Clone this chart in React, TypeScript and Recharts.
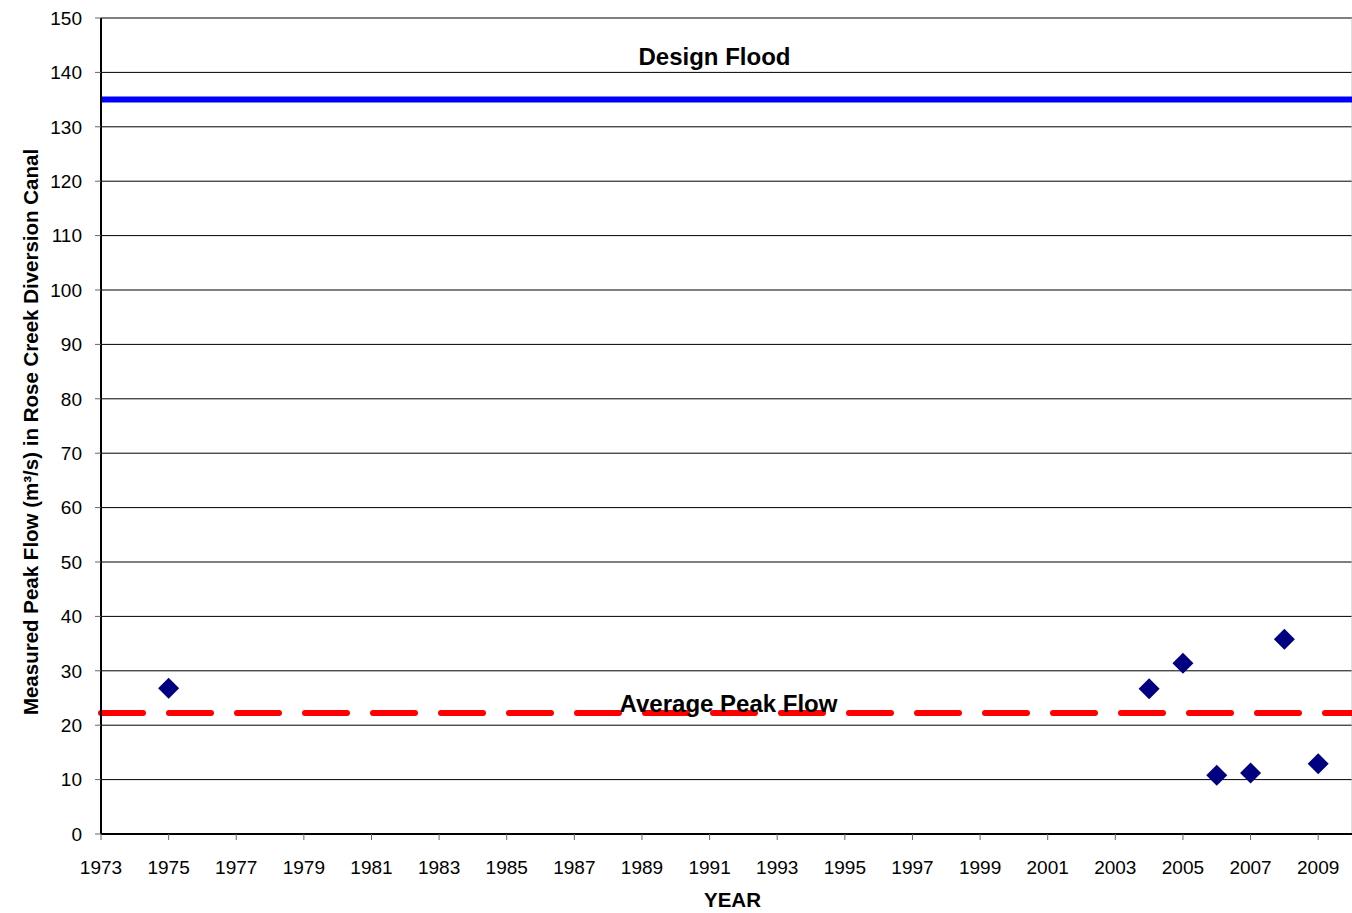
import React from 'react'
import {
  ComposedChart,
  Scatter,
  XAxis,
  YAxis,
  CartesianGrid,
  ReferenceLine,
} from 'recharts'

const years = [1975, 2004, 2005, 2006, 2007, 2008, 2009]
const peakFlows = [26.8, 26.7, 31.4, 10.8, 11.2, 35.8, 12.9]
const designFlood = 135

const xTicks = [
  1973, 1975, 1977, 1979, 1981, 1983, 1985, 1987, 1989, 1991,
  1993, 1995, 1997, 1999, 2001, 2003, 2005, 2007, 2009,
]
const yTicks = [0, 10, 20, 30, 40, 50, 60, 70, 80, 90, 100, 110, 120, 130, 140, 150]

const points = years.map((year, i) => ({ year, flow: peakFlows[i] }))
const averageFlow = peakFlows.reduce((a, b) => a + b, 0) / peakFlows.length

const FONT = '"Liberation Sans", Arial, sans-serif'

function Diamond(props: any) {
  const { cx, cy } = props
  const r = 10.5
  return (
    <polygon
      points={`${cx},${cy - r} ${cx + r},${cy} ${cx},${cy + r} ${cx - r},${cy}`}
      fill="#000080"
    />
  )
}

function YTitle(props: any) {
  const { viewBox } = props
  const x = viewBox.x + 30
  const y = viewBox.y + viewBox.height / 2 + 6
  return (
    <text
      x={x}
      y={y}
      transform={`rotate(-90, ${x}, ${y})`}
      textAnchor="middle"
      dominantBaseline="central"
      fontSize={20.5}
      fontWeight="bold"
      fill="#000"
    >
      Measured Peak Flow (m³/s) in Rose Creek Diversion Canal
    </text>
  )
}

function XTitle(props: any) {
  const { viewBox } = props
  return (
    <text
      x={viewBox.x + viewBox.width / 2 + 6}
      y={viewBox.y + 73}
      textAnchor="middle"
      fontSize={20.5}
      fontWeight="bold"
      fill="#000"
    >
      YEAR
    </text>
  )
}

export default function App() {
  return (
    <div style={{ position: 'absolute', left: 0, top: 0, background: '#fff' }}>
      <ComposedChart
        width={1352}
        height={913}
        data={points}
        margin={{ top: 18, right: 0, bottom: 0, left: 0 }}
        style={{ fontFamily: FONT }}
      >
        <CartesianGrid horizontal vertical={false} stroke="#000" strokeWidth={1} />
        <XAxis
          dataKey="year"
          type="number"
          domain={[1973, 2010]}
          ticks={xTicks}
          interval={0}
          height={79}
          tickSize={6}
          tickMargin={21}
          axisLine={{ stroke: '#000', strokeWidth: 2 }}
          tickLine={{ stroke: '#666' }}
          tick={{ fill: '#000', fontSize: 19 }}
          label={<XTitle />}
        />
        <YAxis
          type="number"
          domain={[0, 150]}
          ticks={yTicks}
          interval={0}
          width={101}
          tickSize={6}
          tickMargin={13}
          axisLine={{ stroke: '#000', strokeWidth: 2 }}
          tickLine={{ stroke: '#666' }}
          tick={{ fill: '#000', fontSize: 19 }}
          label={<YTitle />}
        />
        <ReferenceLine x={2010} stroke="#c0c0c0" strokeWidth={1} />
        <ReferenceLine
          y={designFlood}
          stroke="#0000ff"
          strokeWidth={6}
          label={{
            value: 'Design Flood',
            position: 'top',
            offset: 35,
            dx: -12,
            fill: '#000',
            fontSize: 24,
            fontWeight: 'bold',
          }}
        />
        <ReferenceLine
          y={averageFlow}
          stroke="#ff0000"
          strokeWidth={6}
          strokeDasharray="42 26"
          strokeLinecap="round"
          label={{
            value: 'Average Peak Flow',
            position: 'top',
            offset: 1,
            dx: 2,
            fill: '#000',
            fontSize: 24,
            fontWeight: 'bold',
          }}
        />
        <Scatter dataKey="flow" shape={<Diamond />} isAnimationActive={false} />
      </ComposedChart>
    </div>
  )
}
